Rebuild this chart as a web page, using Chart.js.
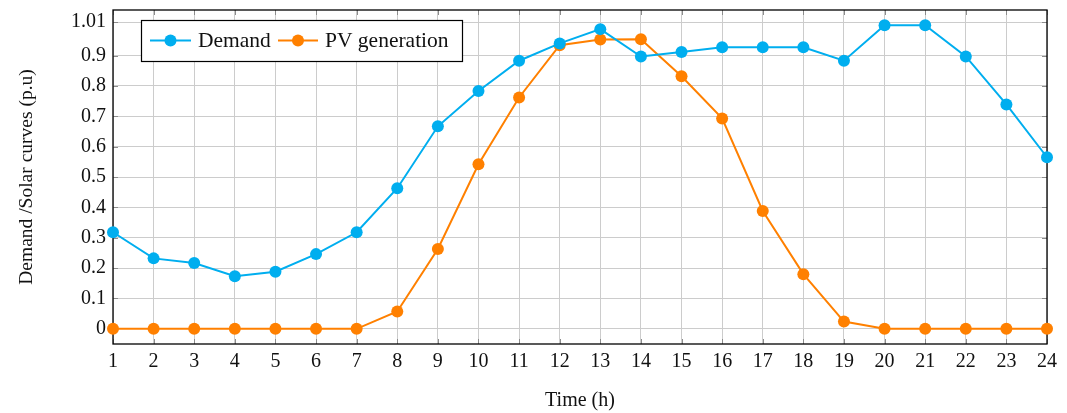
<!DOCTYPE html>
<html>
<head>
<meta charset="utf-8">
<script src="https://cdn.jsdelivr.net/npm/chart.js@4.4.0/dist/chart.umd.min.js"></script>
<style>
html,body{margin:0;padding:0;background:#fff;}
#wrap{width:1067px;height:413px;position:relative;}
</style>
</head>
<body>
<div id="wrap"><canvas id="c"></canvas></div>
<script>
const hours = [1,2,3,4,5,6,7,8,9,10,11,12,13,14,15,16,17,18,19,20,21,22,23,24];
const demand = [0.318,0.232,0.217,0.173,0.188,0.246,0.318,0.463,0.667,0.783,0.883,0.940,0.987,0.897,0.912,0.927,0.927,0.927,0.883,1.000,1.000,0.897,0.739,0.565];
const pvGeneration = [0,0,0,0,0,0,0,0.057,0.263,0.542,0.762,0.934,0.953,0.954,0.832,0.693,0.388,0.180,0.024,0,0,0,0,0];
const yTicks = [0,0.1,0.2,0.3,0.4,0.5,0.6,0.7,0.8,0.9,1.01];
const seriesNames = ['Demand','PV generation'];
const seriesColors = ['#00AEEF','#FF8000'];

const FONT = "'Liberation Serif', 'Times New Roman', serif";

const framePlugin = {
  id: 'frame',
  beforeDatasetsDraw(chart) {
    const {ctx, chartArea: a, scales} = chart;
    ctx.save();
    ctx.strokeStyle = '#8c8c8c';
    ctx.lineWidth = 1;
    const tl = 5;
    scales.x.ticks.forEach((t, i) => {
      const px = Math.round(scales.x.getPixelForTick(i)) + 0.5;
      ctx.beginPath();
      ctx.moveTo(px, a.bottom); ctx.lineTo(px, a.bottom - tl);
      ctx.moveTo(px, a.top); ctx.lineTo(px, a.top + tl);
      ctx.stroke();
    });
    scales.y.ticks.forEach((t) => {
      const py = Math.round(scales.y.getPixelForValue(t.value)) + 0.5;
      ctx.beginPath();
      ctx.moveTo(a.left, py); ctx.lineTo(a.left + tl, py);
      ctx.moveTo(a.right, py); ctx.lineTo(a.right - tl, py);
      ctx.stroke();
    });
    ctx.strokeStyle = '#000';
    ctx.lineWidth = 1.3;
    ctx.strokeRect(a.left, a.top, a.right - a.left, a.bottom - a.top);
    ctx.restore();
  },
  afterDatasetsDraw(chart) {
    const {ctx} = chart;
    ctx.save();
    const bx = 141, by = 20, bw = 321, bh = 41;
    ctx.fillStyle = '#fff';
    ctx.fillRect(bx, by, bw, bh);
    ctx.strokeStyle = '#000';
    ctx.lineWidth = 1.2;
    ctx.strokeRect(bx + 0.5, by + 0.5, bw, bh);
    const cy = by + bh / 2;
    const entries = [
      {x0: 150, x1: 191, tx: 198},
      {x0: 278, x1: 318, tx: 325}
    ];
    ctx.font = "21.5px " + FONT;
    ctx.textBaseline = 'middle';
    entries.forEach((e, i) => {
      const ds = chart.data.datasets[i];
      ctx.strokeStyle = ds.borderColor;
      ctx.lineWidth = 2;
      ctx.beginPath(); ctx.moveTo(e.x0, cy); ctx.lineTo(e.x1, cy); ctx.stroke();
      ctx.fillStyle = ds.backgroundColor;
      ctx.beginPath(); ctx.arc((e.x0 + e.x1) / 2, cy, 6, 0, Math.PI * 2); ctx.fill();
      ctx.fillStyle = '#111';
      ctx.fillText(ds.label, e.tx, cy + 1);
    });
    ctx.restore();
  }
};

new Chart(document.getElementById('c'), {
  type: 'line',
  data: {
    labels: hours,
    datasets: [
      {label: seriesNames[0], data: demand, borderColor: seriesColors[0], backgroundColor: seriesColors[0],
       borderWidth: 2, pointRadius: 6, pointHoverRadius: 6, pointBorderWidth: 0, tension: 0, clip: false},
      {label: seriesNames[1], data: pvGeneration, borderColor: seriesColors[1], backgroundColor: seriesColors[1],
       borderWidth: 2, pointRadius: 6, pointHoverRadius: 6, pointBorderWidth: 0, tension: 0, clip: false}
    ]
  },
  options: {
    responsive: true,
    maintainAspectRatio: false,
    animation: false,
    events: [],
    layout: {autoPadding: false, padding: {left: 0, right: 20, top: 10, bottom: 0}},
    plugins: {legend: {display: false}, tooltip: {enabled: false}},
    scales: {
      x: {
        type: 'category',
        offset: false,
        grid: {color: '#cccccc', lineWidth: 1, drawTicks: false},
        border: {display: false},
        ticks: {color: '#111', font: {family: FONT, size: 20}, padding: 6, maxRotation: 0, autoSkip: false},
        title: {display: true, text: 'Time (h)', color: '#111', font: {family: FONT, size: 20}, padding: {top: 0, bottom: 0}},
        afterFit(s) { s.height = 69; s.paddingLeft = 0; s.paddingRight = 0; }
      },
      y: {
        type: 'linear',
        min: -0.05,
        max: 1.05,
        grid: {color: '#cccccc', lineWidth: 1, drawTicks: false},
        border: {display: false},
        afterBuildTicks(s) { s.ticks = yTicks.map(v => ({value: v})); },
        ticks: {color: '#111', font: {family: FONT, size: 20, lineHeight: 1}, padding: 7,
                callback: (v) => String(v)},
        title: {display: true, text: 'Demand /Solar curves (p.u)', color: '#111', font: {family: FONT, size: 19.5}, padding: {top: 15, bottom: 0}},
        afterFit(s) { s.width = 113; s.paddingTop = 0; s.paddingBottom = 0; }
      }
    }
  },
  plugins: [framePlugin]
});
</script>
</body>
</html>
